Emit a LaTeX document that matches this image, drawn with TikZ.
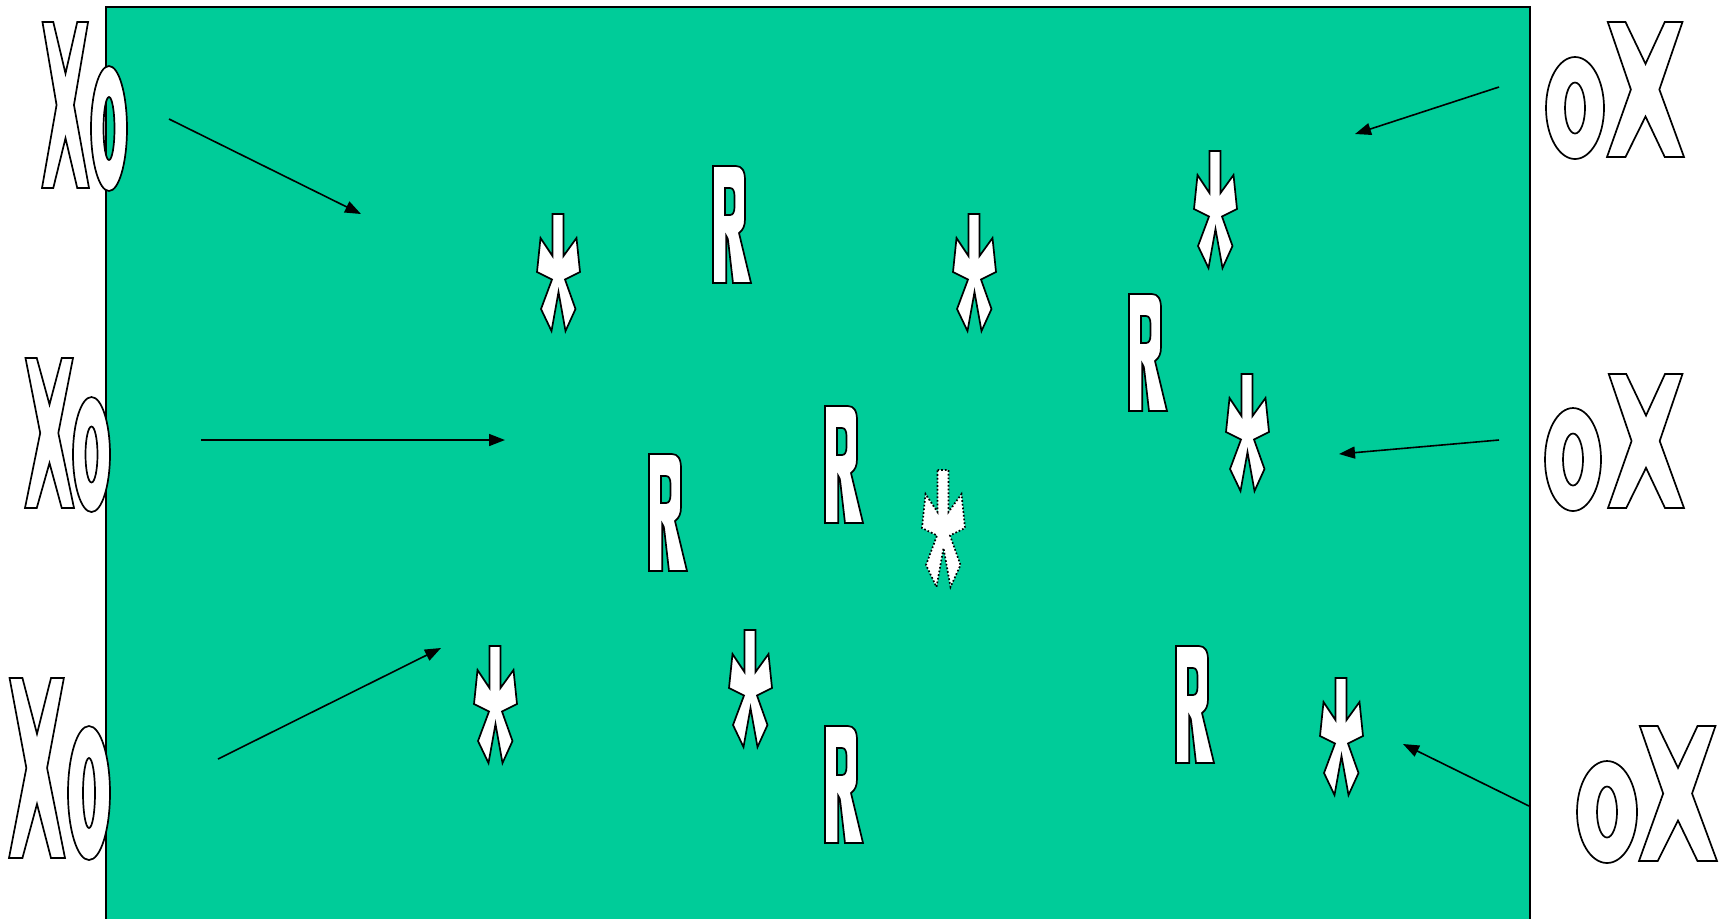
\documentclass[tikz,border=0pt]{standalone}
\usetikzlibrary{arrows.meta}
\definecolor{field}{RGB}{0,204,153}
\begin{document}
\begin{tikzpicture}[x=0.5pt,y=-0.5pt,
  glyph/.style={draw=black,fill=white,line width=0.85pt,line join=miter,even odd rule},
  ptr/.style={draw=black,line width=0.8pt,-{Triangle[length=8pt,width=6pt]}},
  % star-like marker, origin at its top-left corner
  pics/astk/.style={code={
    \path[glyph,#1] (15.5,0) -- (26.5,0) -- (26.5,42) -- (39.5,24) -- (43,58)
      -- (28,65.5) -- (38.5,95) -- (28.5,117) -- (21.5,78) -- (14.5,117)
      -- (4,95) -- (15,65.5) -- (0,58) -- (3.5,24) -- (15.5,42) -- cycle;}},
  % condensed capital R, origin at its top-left corner
  pics/rglyph/.style={code={
    \path[glyph] (0,0) -- (23,0) .. controls (29,0) and (32,5) .. (32,14)
      -- (32,53) .. controls (32,60) and (30,64) .. (26,67) -- (38,117)
      -- (20,117) -- (15.5,78) .. controls (15,73) and (14.5,71) .. (13.3,70)
      -- (13.3,117) -- (0,117) -- cycle
      (12,22) -- (17,22) .. controls (20,22) and (21.5,25) .. (21.5,30)
      -- (21.5,41) .. controls (21.5,46) and (20,49) .. (17,49) -- (12,49) -- cycle;}},
  % condensed capital X in a w x h box, origin at its top-left corner
  pics/xglyph/.style 2 args={code={
    \begin{scope}[xscale=#1,yscale=#2]
    \path[glyph] (0.01,0) -- (0.24,0) -- (0.5,0.31) -- (0.75,0) -- (0.98,0)
      -- (0.68,0.5) -- (1,1) -- (0.75,1) -- (0.5,0.70) -- (0.24,1) -- (0,1)
      -- (0.31,0.5) -- cycle;
    \end{scope}}},
  % small o: outer and inner radii, origin at its centre
  pics/oglyph/.style n args={4}{code={
    \path[glyph] (0,0) ellipse [x radius=#1,y radius=#2]
      (0,0) ellipse [x radius=#3,y radius=#4];}}
]
\useasboundingbox (0,0) rectangle (1724,918);

% playing field
\path[fill=field,draw=black,line width=1pt] (106,6.5) rectangle (1529.5,930);

% left labels
\pic at (42,22) {xglyph={47}{166}};
\pic at (109,128.5) {oglyph={18}{62.5}{5.5}{31.5}};
\pic at (25,358) {xglyph={49}{150}};
\pic at (91.5,454.5) {oglyph={18.5}{57.5}{6}{28}};
\pic at (9,678) {xglyph={56}{180}};
\pic at (89,793) {oglyph={21}{67}{6}{35}};

% right labels
\pic at (1575,108) {oglyph={29}{51}{10}{25.5}};
\pic at (1607,22) {xglyph={77}{135}};
\pic at (1573,459.5) {oglyph={28}{51.5}{10}{26}};
\pic at (1608,374) {xglyph={76}{134}};
\pic at (1607,812) {oglyph={30}{51}{10}{25.5}};
\pic at (1639,726) {xglyph={78}{135}};

% players R
\pic at (713,166) {rglyph};
\pic at (1129,294) {rglyph};
\pic at (825,406) {rglyph};
\pic at (649,454) {rglyph};
\pic at (1176,646) {rglyph};
\pic at (825,726) {rglyph};

% markers
\pic at (537,214) {astk};
\pic at (953,214) {astk};
\pic at (1194,151) {astk};
\pic at (1226,374) {astk};
\pic at (922,470) {astk=densely dotted};
\pic at (474,646) {astk};
\pic at (729,630) {astk};
\pic at (1320,678) {astk};

% arrow end points
\coordinate (a1s) at (169,119);  \coordinate (a1e) at (361,214);
\coordinate (a2s) at (201,440);  \coordinate (a2e) at (505,440);
\coordinate (a3s) at (218,759);  \coordinate (a3e) at (441,648);
\coordinate (b1s) at (1499,87);  \coordinate (b1e) at (1355,134);
\coordinate (b2s) at (1499,440); \coordinate (b2e) at (1339,454);
\coordinate (b3s) at (1529,806); \coordinate (b3e) at (1403,744);

\draw[ptr] (a1s) -- (a1e);
\draw[ptr] (a2s) -- (a2e);
\draw[ptr] (a3s) -- (a3e);
\draw[ptr] (b1s) -- (b1e);
\draw[ptr] (b2s) -- (b2e);
\draw[ptr] (b3s) -- (b3e);
\end{tikzpicture}
\end{document}
